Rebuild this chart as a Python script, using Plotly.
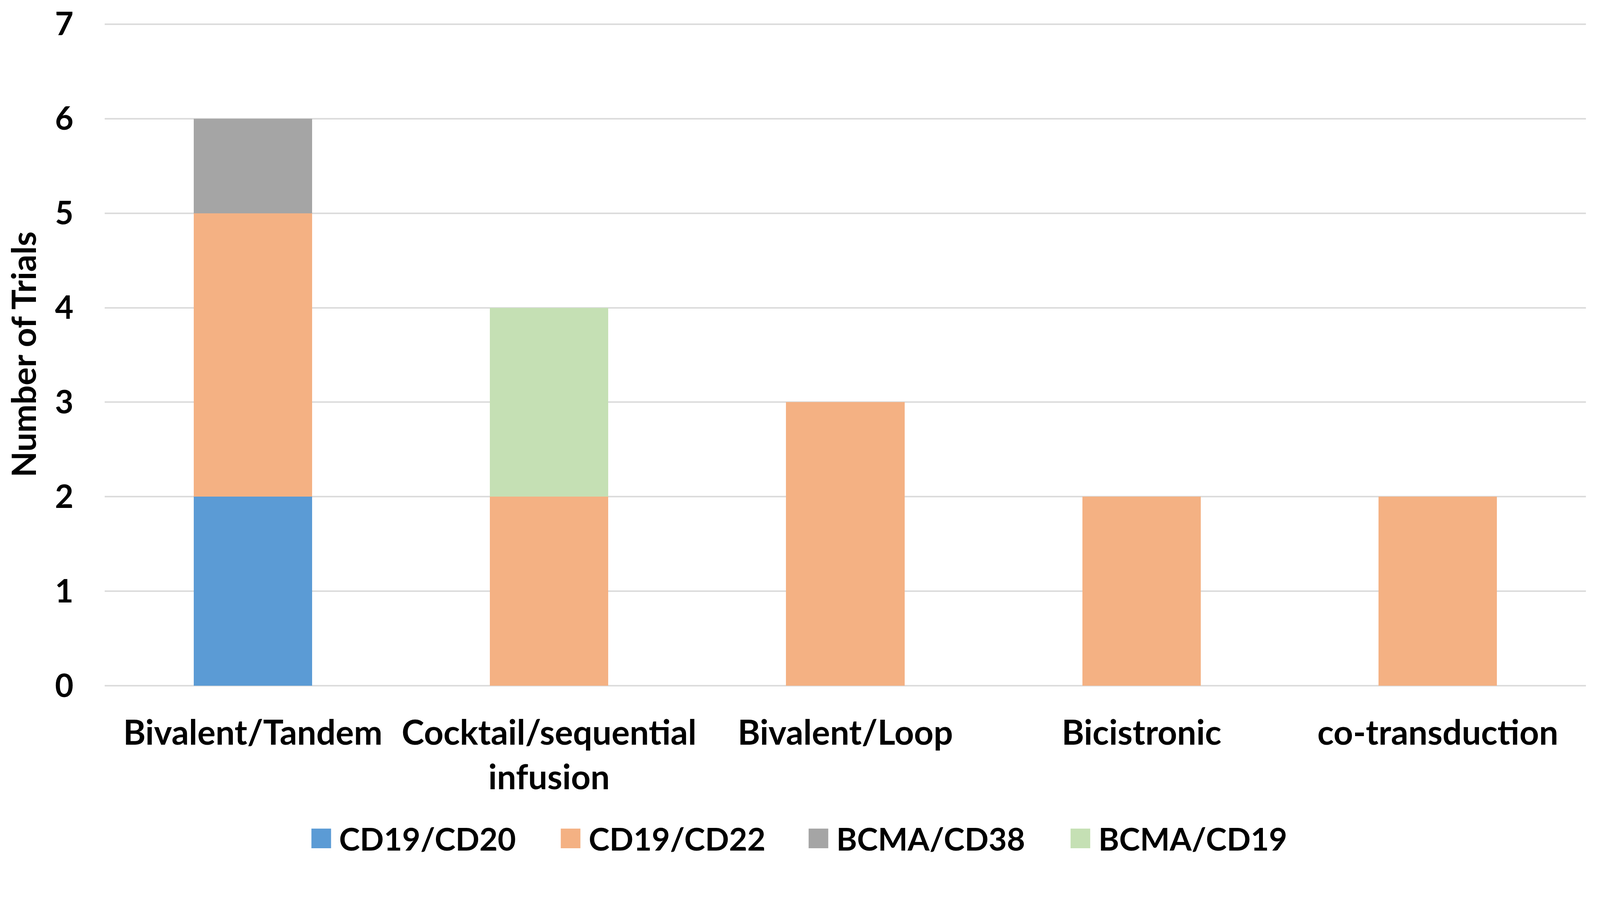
import plotly.graph_objects as go

categories = ["Bivalent/Tandem", "Cocktail/sequential<br>infusion", "Bivalent/Loop", "Bicistronic", "co-transduction"]
series_names = ["CD19/CD20", "CD19/CD22", "BCMA/CD38", "BCMA/CD19"]
cd19_cd20 = [2, 0, 0, 0, 0]
cd19_cd22 = [3, 2, 3, 2, 2]
bcma_cd38 = [1, 0, 0, 0, 0]
bcma_cd19 = [0, 2, 0, 0, 0]
y_ticks = [0, 1, 2, 3, 4, 5, 6, 7]

series_values = [cd19_cd20, cd19_cd22, bcma_cd38, bcma_cd19]
colors = ["#5B9BD5", "#F4B183", "#A5A5A5", "#C5E0B4"]

W, H = 4318, 2347
ML, MR, MT, MB = 282, 38, 62, 497
PW, PH = W - ML - MR, H - MT - MB
FONT = "Lato"
GRID = "#DCDCDC"
CLEAR = "rgba(0,0,0,0)"

fig = go.Figure()
for name, vals, col in zip(series_names, series_values, colors):
    fig.add_trace(go.Bar(
        x=categories, y=vals, name=name,
        marker=dict(color=col, line=dict(width=0)),
        width=0.4, showlegend=False,
    ))

# legend drawn with large square swatches like the original
leg_sq_x = [840, 1513, 2182, 2889]
leg_cy = 2262
sq = 53
shapes = []
annotations = []
for name, col, sx in zip(series_names, colors, leg_sq_x):
    shapes.append(dict(
        type="rect", xref="paper", yref="paper",
        x0=(sx - ML) / PW, x1=(sx + sq - ML) / PW,
        y0=(H - MB - (leg_cy + sq / 2)) / PH, y1=(H - MB - (leg_cy - sq / 2)) / PH,
        fillcolor=col, line=dict(width=0),
    ))
    annotations.append(dict(
        xref="paper", yref="paper",
        x=(sx + sq + 20 - ML) / PW, y=(H - MB - leg_cy) / PH,
        xanchor="left", yanchor="middle", showarrow=False,
        text=name, font=dict(family=FONT, size=85, color="#000000", weight="bold"),
    ))

fig.update_layout(
    template="none",
    width=W, height=H,
    margin=dict(l=ML, r=MR, t=MT, b=MB),
    barmode="stack",
    plot_bgcolor="white", paper_bgcolor="white",
    font=dict(family=FONT, size=86, color="#000000", weight="bold"),
    shapes=shapes, annotations=annotations,
    xaxis=dict(
        showgrid=False, showline=False, zeroline=False,
        ticks="outside", ticklen=48, tickcolor=CLEAR, tickwidth=1,
        tickfont=dict(family=FONT, size=92, color="#000000", weight="bold"),
    ),
    yaxis=dict(
        range=[0, 7.012], tickvals=y_ticks, showgrid=True, gridcolor=GRID, gridwidth=4,
        zeroline=True, zerolinecolor=GRID, zerolinewidth=4, showline=False,
        ticks="outside", ticklen=66, tickcolor=CLEAR, tickwidth=1,
        tickfont=dict(family=FONT, size=86, color="#000000", weight="bold"),
        title=dict(text="Number of Trials", standoff=20,
                   font=dict(family=FONT, size=91, color="#000000", weight="bold")),
    ),
)

# scale the fixed-pixel layout to the actual CSS viewport so the page fills the window exactly
post_js = (
    "(function(){"
    "var gd=document.getElementById('{plot_id}');"
    "document.body.style.margin='0';"
    "document.documentElement.style.overflow='hidden';"
    "document.body.style.overflow='hidden';"
    "var s=window.innerWidth/" + str(W) + ";"
    "if(!isFinite(s)||s<=0||Math.abs(s-1)<0.002){return;}"
    "var keys={size:1,width:1,height:1,l:1,r:1,t:1,b:1,ticklen:1,standoff:1,gridwidth:1,zerolinewidth:1};"
    "function walk(o){for(var k in o){var v=o[k];if(v&&typeof v==='object'){walk(v);}"
    "else if(typeof v==='number'&&keys[k]){o[k]=v*s;}}}"
    "var lay=JSON.parse(JSON.stringify(gd.layout));"
    "walk(lay);lay.width=Math.floor(lay.width);lay.height=Math.floor(lay.height);"
    "Plotly.react(gd,gd.data,lay,{displayModeBar:false});"
    "})();"
)

fig.write_html("out.html", post_script=post_js, config={"displayModeBar": False})
